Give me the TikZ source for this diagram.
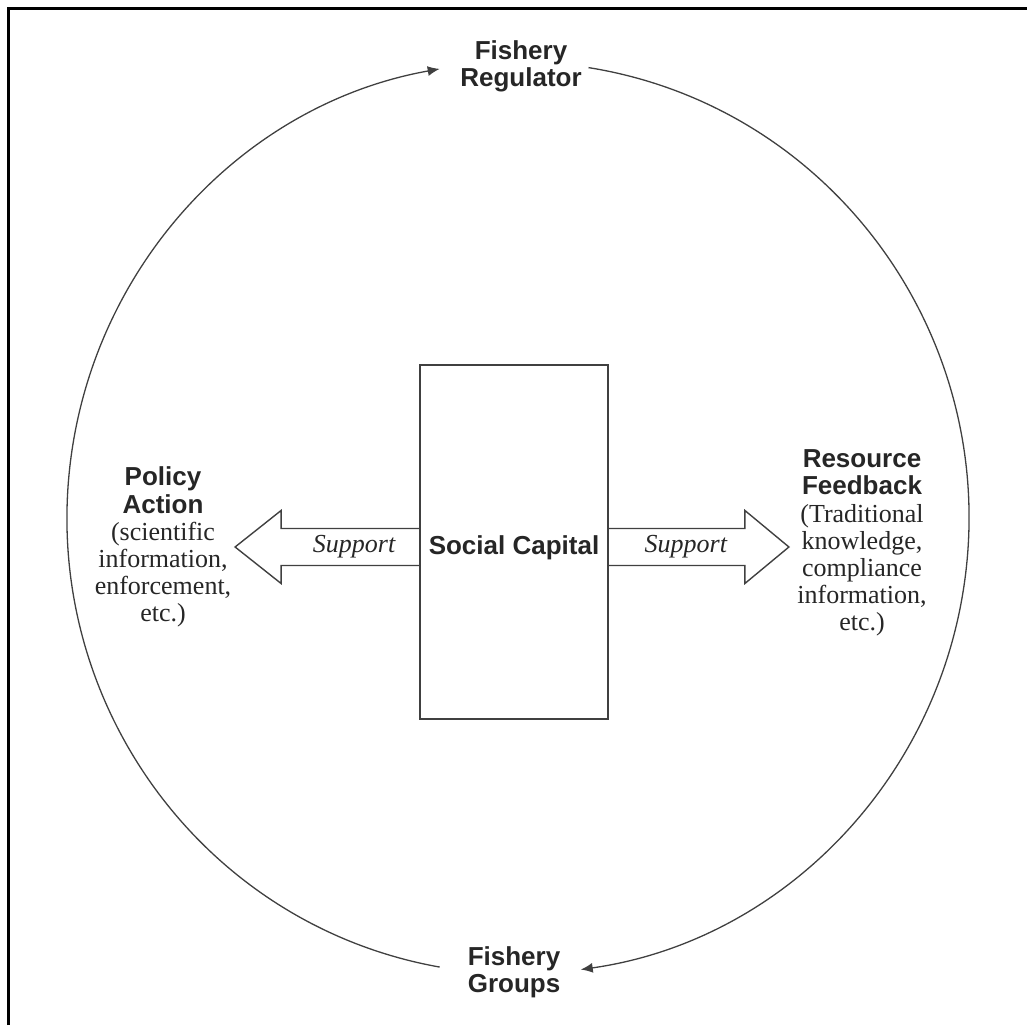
\documentclass[tikz,border=0pt]{standalone}
\usepackage{fontspec}
\setmainfont{Liberation Serif}
\setsansfont{Liberation Sans}
\usetikzlibrary{arrows.meta, positioning, calc}

\begin{document}
\begin{tikzpicture}[
    x=1pt, y=1pt,
    font=\fontsize{26}{27}\selectfont,
    actor/.style={
        font=\fontsize{26}{27}\selectfont\sffamily\bfseries,
        text=black!85, align=center, inner sep=0pt, anchor=base
    },
    effect/.style={
        font=\fontsize{26}{27.2}\selectfont,
        text=black!85, align=center, inner sep=0pt, anchor=base
    },
    capital/.style={
        rectangle, draw=black!75, line width=1.8pt,
        minimum width=188pt, minimum height=354pt, inner sep=0pt,
        text height=31pt, text depth=5.5pt, text=black!85,
        font=\fontsize{26}{27}\selectfont\sffamily\bfseries
    },
    supp/.style={
        font=\fontsize{26}{27}\selectfont\itshape,
        text=black!85, inner sep=0pt, anchor=base
    },
    blockarr/.style={draw=black!75, line width=1.4pt, line join=miter},
    cyc/.style={-{Latex[length=12pt,width=10pt]}, line width=1.3pt, draw=black!75},
]
\useasboundingbox (0,0) rectangle (1027,1025);

% frame (only top and left edges show)
\draw[line width=2.2pt] (8.5,0) -- (8.5,1016.5) -- (1027,1016.5);

% centre box
\node[capital] (cap) at (514,483) {Social Capital};

% actors (base = last line)
\node[actor] (regulator) at (521,938) {Fishery\\Regulator};
\node[actor] (groups) at (514,33) {Fishery\\Groups};

\node[effect] (policy) at (163,403)
    {\textsf{\textbf{Policy}}\\\textsf{\textbf{Action}}\\(scientific\\information,\\enforcement,\\etc.)};
\node[effect] (feedback) at (862,394)
    {\textsf{\textbf{Resource}}\\\textsf{\textbf{Feedback}}\\(Traditional\\knowledge,\\compliance\\information,\\etc.)};

% block arrows out of the box
\draw[blockarr] ([yshift=13.5]cap.west) -- ++(-138,0) -- ++(0,18) -- ++(-46,-36.5)
    -- ++(46,-36.5) -- ++(0,18) -- ([yshift=-23.5]cap.west);
\draw[blockarr] ([yshift=13.5]cap.east) -- ++(136,0) -- ++(0,18) -- ++(44,-36.5)
    -- ++(-44,-36.5) -- ++(0,18) -- ([yshift=-23.5]cap.east);

\node[supp] (suppL) at ([xshift=-65,yshift=-11]cap.west) {Support};
\node[supp] (suppR) at ([xshift=77,yshift=-11]cap.east) {Support};

% the loop between groups and regulator
\coordinate (hub) at (518,507);
\coordinate (grpL) at ($(hub)+(260:451 and 456)$);
\coordinate (regR) at ($(hub)+(81:451 and 456)$);

\draw[cyc] (grpL) arc[start angle=260, end angle=100, x radius=451, y radius=456];
\draw[cyc] (regR) arc[start angle=81, end angle=-82, x radius=451, y radius=456];

\end{tikzpicture}
\end{document}
